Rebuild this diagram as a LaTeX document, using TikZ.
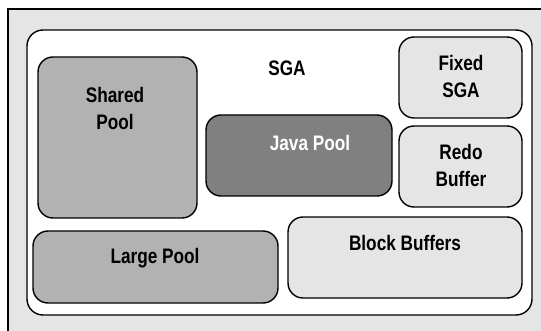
\documentclass[tikz,border=0pt]{standalone}
\usepackage{fontspec}
\setmainfont{Liberation Sans}[FakeStretch=0.82]
\begin{document}
\begin{tikzpicture}[x=1pt,y=-1pt,
  box/.style={draw=black,line width=1.4pt,rounded corners=15pt},
  lbl/.style={font=\fontsize{21}{27}\selectfont\bfseries,align=center,inner sep=0pt},
  lightbox/.style={box,fill=black!10},
  midbox/.style={box,fill=black!30},
  darkbox/.style={box,fill=black!50}]
\useasboundingbox (0,0) rectangle (541,331);
\draw[fill=black!10,line width=1.4pt] (8,9) rectangle (560,350);
\draw[box,fill=white,rounded corners=16pt] (27,30) rectangle (532,315);
\draw[midbox] (38,57) rectangle (197,218);
\draw[darkbox] (206,115) rectangle (392,196);
\draw[lightbox] (399,37) rectangle (522,118);
\draw[lightbox] (399,126) rectangle (522,207);
\draw[midbox] (33,231) rectangle (278,303);
\draw[lightbox] (288,217) rectangle (522,298);
\node[lbl] (sga) at (287,68) {SGA};
\node[lbl] (shared) at (115,108) {Shared\\Pool};
\node[lbl,text=white] (java) at (310,143) {Java Pool};
\node[lbl] (fixed) at (461,76) {Fixed\\SGA};
\node[lbl] (redo) at (461,165) {Redo\\Buffer};
\node[lbl] (large) at (155,258) {Large Pool};
\node[lbl] (block) at (405,243) {Block Buffers};
\end{tikzpicture}
\end{document}
